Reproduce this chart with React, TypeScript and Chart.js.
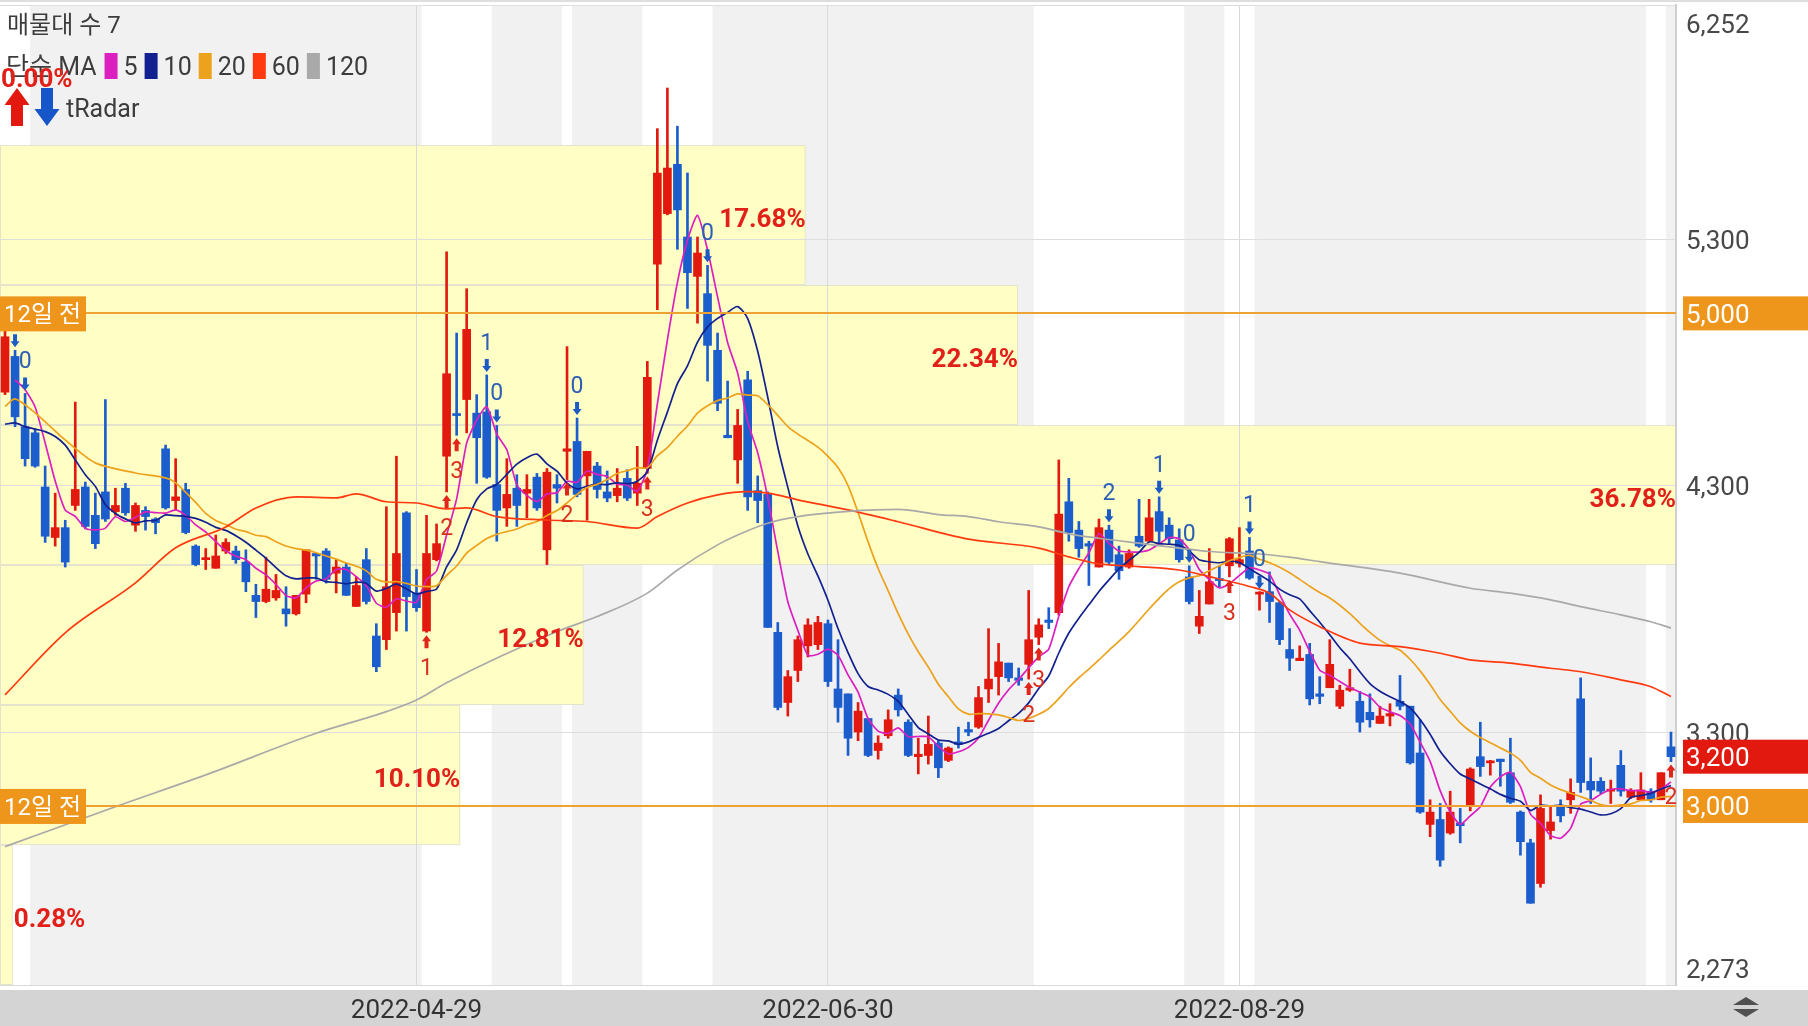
import React, { useEffect, useRef } from 'react';
import { Chart, registerables } from 'chart.js';

Chart.register(...registerables);

// ---------- data ----------
const opens = [
  4680, 4825, 4540, 4515, 4295, 4090, 4130, 4220, 4295, 4180,
  4275, 4195, 4290, 4140, 4200, 4165, 4450, 4240, 4285, 4055,
  4000, 3965, 4035, 4035, 3990, 3855, 3830, 3845, 3800, 3780,
  3860, 4025, 4035, 3945, 3970, 3810, 4000, 3690, 3675, 3785,
  4190, 3865, 3710, 4000, 4420, 4590, 4650, 4595, 4600, 4305,
  4210, 4290, 4270, 4335, 4040, 4305, 4440, 4480, 4340, 4380,
  4275, 4260, 4330, 4270, 4370, 5200, 5405, 5605, 5310, 5150,
  5080, 4850, 4505, 4405, 4730, 4280, 4265, 3705, 3420, 3550,
  3650, 3655, 3740, 3475, 3455, 3300, 3355, 3225, 3285, 3450,
  3340, 3200, 3205, 3255, 3185, 3260, 3310, 3320, 3475, 3525,
  3580, 3520, 3575, 3685, 3755, 3785, 4235, 4120, 4065, 3970,
  4120, 4020, 3970, 4095, 4075, 4195, 4140, 4080, 3930, 3730,
  3820, 3920, 3975, 3985, 4035, 3860, 3870, 3825, 3635, 3590,
  3615, 3455, 3480, 3405, 3470, 3425, 3380, 3335, 3365, 3425,
  3405, 3215, 2925, 2945, 2890, 2930, 3000, 3200, 3175, 3190,
  3135, 2975, 2850, 2685, 2900, 2995, 3025, 3435, 3100, 3100,
  3060, 3165, 3035, 3025, 3060, 3025, 3240,
];
const highs = [
  4930, 4850, 4675, 4530, 4380, 4270, 4160, 4640, 4315, 4270,
  4650, 4290, 4310, 4230, 4215, 4170, 4465, 4410, 4310, 4060,
  4045, 4100, 4085, 4055, 4040, 3900, 4010, 3940, 3890, 3855,
  4040, 4025, 4045, 4000, 3985, 3930, 4045, 3740, 4215, 4420,
  4195, 3960, 4180, 4145, 5250, 4920, 5100, 4670, 4750, 4545,
  4410, 4345, 4345, 4350, 4370, 4345, 4865, 4575, 4440, 4395,
  4360, 4370, 4365, 4460, 4805, 5750, 5915, 5760, 5570, 5310,
  5195, 4920, 4725, 4610, 4765, 4340, 4275, 3745, 3550, 3690,
  3760, 3770, 3755, 3675, 3455, 3420, 3355, 3285, 3390, 3475,
  3350, 3275, 3365, 3265, 3240, 3320, 3340, 3485, 3720, 3660,
  3580, 3560, 3875, 3760, 3805, 4405, 4330, 4155, 4075, 4165,
  4140, 4055, 4040, 4245, 4245, 4255, 4170, 4125, 3975, 3875,
  4045, 3975, 4090, 4130, 4090, 3870, 3950, 3830, 3720, 3650,
  3660, 3525, 3675, 3490, 3555, 3465, 3455, 3405, 3415, 3530,
  3405, 3350, 3025, 3010, 3060, 2990, 3155, 3340, 3185, 3190,
  3275, 2980, 2865, 3045, 2995, 3025, 3110, 3520, 3195, 3115,
  3105, 3225, 3070, 3135, 3070, 3135, 3300,
];
const lows = [
  4670, 4540, 4380, 4375, 4070, 4055, 3970, 4200, 4125, 4045,
  4155, 4180, 4180, 4115, 4120, 4105, 4205, 4200, 4105, 3975,
  3960, 3965, 4025, 3985, 3870, 3765, 3825, 3835, 3730, 3775,
  3825, 3920, 3905, 3865, 3855, 3810, 3820, 3545, 3635, 3710,
  3710, 3790, 3705, 3995, 4275, 4505, 4515, 4310, 4330, 4075,
  4135, 4135, 4170, 4200, 3980, 4230, 4325, 4255, 4160, 4250,
  4235, 4235, 4240, 4220, 4350, 5015, 5400, 5260, 5020, 4960,
  4725, 4605, 4495, 4310, 4200, 4150, 3725, 3390, 3365, 3505,
  3605, 3635, 3485, 3340, 3205, 3265, 3200, 3190, 3275, 3365,
  3200, 3130, 3170, 3115, 3180, 3235, 3285, 3315, 3420, 3450,
  3505, 3490, 3515, 3655, 3720, 3775, 4075, 4010, 3895, 3970,
  3980, 3920, 3965, 4050, 4075, 4065, 4065, 3990, 3820, 3700,
  3820, 3890, 3930, 3970, 3920, 3795, 3745, 3655, 3550, 3590,
  3410, 3415, 3480, 3395, 3465, 3300, 3320, 3335, 3325, 3390,
  3170, 2970, 2875, 2755, 2885, 2850, 2980, 3120, 3125, 3080,
  3010, 2800, 2605, 2670, 2865, 2935, 2970, 3055, 3010, 3050,
  3010, 3040, 3030, 3025, 3015, 3025, 3180,
];
const closes = [
  4905, 4580, 4410, 4380, 4095, 4130, 3990, 4285, 4135, 4065,
  4165, 4220, 4190, 4220, 4175, 4150, 4210, 4255, 4110, 3980,
  4005, 4015, 4070, 4000, 3910, 3830, 3880, 3875, 3780, 3855,
  4040, 4015, 3920, 3970, 3855, 3895, 3830, 3565, 3890, 4025,
  3850, 3805, 4025, 4065, 4755, 4585, 4935, 4495, 4335, 4200,
  4265, 4220, 4285, 4210, 4355, 4290, 4450, 4265, 4440, 4285,
  4250, 4290, 4250, 4310, 4740, 5570, 5590, 5420, 5165, 5245,
  4870, 4635, 4495, 4545, 4255, 4240, 3725, 3400, 3525, 3675,
  3735, 3745, 3505, 3400, 3275, 3385, 3205, 3255, 3350, 3390,
  3205, 3210, 3250, 3155, 3235, 3250, 3300, 3440, 3515, 3585,
  3520, 3510, 3675, 3735, 3745, 4185, 4110, 4045, 4055, 4130,
  3990, 3955, 4025, 4055, 4170, 4115, 4085, 4000, 3830, 3770,
  3910, 3915, 4085, 4000, 3925, 3865, 3830, 3675, 3600, 3600,
  3435, 3445, 3575, 3470, 3480, 3340, 3350, 3365, 3375, 3405,
  3175, 2975, 2975, 2780, 2975, 2920, 3150, 3160, 3180, 3180,
  3015, 2855, 2605, 2990, 2935, 2960, 3055, 3095, 3065, 3060,
  3065, 3060, 3060, 3065, 3025, 3135, 3200,
];

// trading calendar (KRX)
const startDate = '2022-03-02';
const holidays = ['2022-03-09', '2022-05-05', '2022-06-01', '2022-06-06', '2022-08-15', '2022-09-09', '2022-09-12', '2022-10-03', '2022-10-10'];
const tickDates = ['2022-04-29', '2022-06-30', '2022-08-29'];

// price axis
const yMin = 2273;
const yMax = 6252;
const yTicks = [6252, 5300, 4300, 3300, 2273];

// marked levels & current price
const levelPrices = [5000, 3000];
const levelLabel = '12일 전';
const currentPrice = 3200;

// volume-at-price bands (bottom -> top), percent
const vpPct = [0.28, 10.10, 12.81, 36.78, 22.34, 17.68, 0.0];

// shaded day ranges (category indices)
const shadeStart = [3, 49, 57, 71, 118, 125, 166];
const shadeEnd = [41, 55, 63, 102, 121, 163, 166];

// moving averages: head values read from the picture where the window is not in view
const ma5HeadIdx = [1, 2, 3];
const ma5HeadVal = [4730, 4690, 4620];
const ma10HeadIdx = [0, 1, 2, 3, 4, 5, 6, 7, 8];
const ma10HeadVal = [4550, 4555, 4540, 4530, 4520, 4500, 4465, 4405, 4345];
const ma20HeadIdx = [0, 1, 3, 6, 9, 13, 16, 17];
const ma20HeadVal = [4622, 4653, 4596, 4486, 4393, 4352, 4332, 4312];
const ma60Idx = [0, 6, 13, 17, 22, 25, 29, 33, 35, 38, 41, 44, 46, 49, 54, 58, 63, 65, 68, 71, 74, 76, 79, 84, 89, 96, 103, 106, 109, 113, 117, 120, 124, 126, 128, 131, 135, 139, 143, 146, 150, 154, 157, 161, 164, 166];
const ma60Val = [3451, 3703, 3906, 4048, 4133, 4210, 4255, 4251, 4267, 4235, 4230, 4206, 4210, 4175, 4161, 4155, 4128, 4175, 4230, 4263, 4276, 4270, 4243, 4202, 4154, 4083, 4047, 4011, 3983, 3972, 3958, 3931, 3891, 3864, 3796, 3728, 3661, 3647, 3620, 3593, 3580, 3559, 3545, 3512, 3484, 3444];
const ma120Idx = [0, 11, 20, 31, 38, 41, 44, 55, 59, 64, 67, 71, 73, 76, 79, 84, 89, 93, 96, 99, 103, 106, 109, 113, 117, 120, 125, 128, 131, 139, 146, 150, 154, 157, 161, 164, 166];
const ma120Val = [2835, 2997, 3126, 3295, 3383, 3430, 3500, 3708, 3769, 3864, 3958, 4060, 4100, 4148, 4175, 4196, 4204, 4183, 4175, 4154, 4133, 4105, 4087, 4067, 4047, 4033, 4023, 4010, 3992, 3945, 3884, 3864, 3837, 3809, 3776, 3748, 3722];

// tRadar signals
const sigIdx = [1, 2, 42, 44, 45, 48, 49, 56, 57, 64, 70, 102, 103, 110, 115, 118, 122, 124, 125, 166];
const sigUp = [false, false, true, true, true, false, false, true, false, true, false, true, true, false, false, false, true, false, false, true];
const sigNum = ['', '0', '1', '2', '3', '1', '0', '2', '0', '3', '0', '2', '3', '2', '1', '0', '3', '1', '0', '2'];

// legend
const maPeriods = ['5', '10', '20', '60', '120'];
const maColors = ['#dc1fbf', '#12218f', '#eca21c', '#ff3a10', '#a9a9a9'];

const UP = '#e2190f';
const DOWN = '#1b5dcc';
const ORANGE = '#ee961c';
const FONT = 'Roboto, "Noto Sans CJK KR", sans-serif';
const TY = 3; // text baseline nudge

function buildTradingDays(start: string, count: number, hol: string[]): string[] {
  const out: string[] = [];
  const d = new Date(start + 'T00:00:00Z');
  while (out.length < count) {
    const wd = d.getUTCDay();
    const s = d.toISOString().slice(0, 10);
    if (wd !== 0 && wd !== 6 && !hol.includes(s)) out.push(s);
    d.setUTCDate(d.getUTCDate() + 1);
  }
  return out;
}

function movingAvg(src: number[], n: number, headIdx: number[], headVal: number[]) {
  return src.map((_, i) => {
    if (i >= n - 1) {
      let s = 0;
      for (let k = i - n + 1; k <= i; k++) s += src[k];
      return s / n;
    }
    const h = headIdx.indexOf(i);
    return h >= 0 ? headVal[h] : null;
  });
}

function sparse(n: number, idx: number[], val: number[]) {
  const arr: (number | null)[] = new Array(n).fill(null);
  idx.forEach((i, k) => { arr[i] = val[k]; });
  return arr;
}

function arrow(ctx: CanvasRenderingContext2D, x: number, tip: number, up: boolean, color: string, w: number, h: number, shaftW: number, headH: number) {
  const s = up ? 1 : -1;
  ctx.fillStyle = color;
  ctx.beginPath();
  ctx.moveTo(x, tip);
  ctx.lineTo(x + w / 2, tip + s * headH);
  ctx.lineTo(x + shaftW / 2, tip + s * headH);
  ctx.lineTo(x + shaftW / 2, tip + s * h);
  ctx.lineTo(x - shaftW / 2, tip + s * h);
  ctx.lineTo(x - shaftW / 2, tip + s * headH);
  ctx.lineTo(x - w / 2, tip + s * headH);
  ctx.closePath();
  ctx.fill();
}

const decorPlugin = {
  id: 'decor',
  beforeDraw(chart: any) {
    const { ctx, chartArea: a, scales } = chart;
    const xs = scales.x;
    const ys = scales.y;
    const W = chart.width;
    const H = chart.height;
    ctx.save();
    ctx.fillStyle = '#ffffff';
    ctx.fillRect(0, 0, W, H);
    ctx.fillStyle = '#dedede';
    ctx.fillRect(0, 0, W, 2);
    const half = (xs.getPixelForValue(1) - xs.getPixelForValue(0)) / 2;
    ctx.fillStyle = '#f1f1f1';
    shadeStart.forEach((s, k) => {
      const x0 = xs.getPixelForValue(s) - half;
      const x1 = xs.getPixelForValue(shadeEnd[k]) + half;
      ctx.fillRect(x0, a.top, x1 - x0, a.bottom - a.top);
    });
    const step = (yMax - yMin) / vpPct.length;
    const maxPct = Math.max(...vpPct);
    vpPct.forEach((p, k) => {
      if (p <= 0) return;
      const yt = ys.getPixelForValue(yMin + (k + 1) * step);
      const yb = ys.getPixelForValue(yMin + k * step);
      const w = (p / maxPct) * (a.right - a.left);
      ctx.fillStyle = '#fffec4';
      ctx.fillRect(a.left, yt, w, yb - yt);
      ctx.strokeStyle = '#e4e4cc';
      ctx.lineWidth = 1;
      ctx.strokeRect(a.left + 0.5, Math.round(yt) + 0.5, w - 1, yb - yt - 1);
    });
    ctx.fillStyle = '#d4d4d4';
    ctx.fillRect(0, a.bottom + 5, W, H - a.bottom - 5);
    ctx.restore();
  },
  afterDatasetsDraw(chart: any) {
    const { ctx, chartArea: a, scales } = chart;
    const xs = scales.x;
    const ys = scales.y;
    ctx.save();
    ctx.beginPath();
    ctx.rect(a.left, a.top, a.right - a.left, a.bottom - a.top);
    ctx.clip();
    ctx.font = '23px ' + FONT;
    ctx.textAlign = 'center';
    ctx.textBaseline = 'middle';
    sigIdx.forEach((i, k) => {
      const x = xs.getPixelForValue(i);
      if (sigUp[k]) {
        const tip = ys.getPixelForValue(lows[i]) + 3;
        arrow(ctx, x, tip, true, '#e0251a', 9, 13, 4, 6);
        ctx.fillStyle = '#d8301e';
        if (sigNum[k]) ctx.fillText(sigNum[k], x, tip + 31 + TY);
      } else {
        const tip = ys.getPixelForValue(highs[i]) - 3;
        arrow(ctx, x, tip, false, '#1c5bc4', 9, 13, 4, 6);
        ctx.fillStyle = '#2d5fb4';
        if (sigNum[k]) ctx.fillText(sigNum[k], x, tip - 31 + TY);
      }
    });
    ctx.strokeStyle = '#efa234';
    ctx.lineWidth = 2;
    levelPrices.forEach((p) => {
      const y = Math.round(ys.getPixelForValue(p));
      ctx.beginPath();
      ctx.moveTo(a.left, y);
      ctx.lineTo(a.right, y);
      ctx.stroke();
    });
    ctx.restore();
  },
  afterDraw(chart: any) {
    const { ctx, chartArea: a, scales } = chart;
    const ys = scales.y;
    const W = chart.width;
    ctx.save();
    ctx.font = '26px ' + FONT;
    ctx.textAlign = 'left';
    ctx.textBaseline = 'middle';
    ctx.fillStyle = '#484848';
    yTicks.forEach((v) => {
      let y = ys.getPixelForValue(v);
      y = Math.max(a.top + 18, Math.min(a.bottom - 17, y));
      ctx.fillText(v.toLocaleString('en-US'), a.right + 10, y + TY);
    });
    levelPrices.forEach((p) => {
      const y = ys.getPixelForValue(p);
      ctx.fillStyle = ORANGE;
      ctx.fillRect(a.right + 7, y - 17, W - a.right - 7, 34);
      ctx.fillStyle = '#ffffff';
      ctx.font = '26px ' + FONT;
      ctx.fillText(p.toLocaleString('en-US'), a.right + 10, y + TY);
      ctx.fillStyle = ORANGE;
      ctx.fillRect(a.left, y - 17, 86, 35);
      ctx.fillStyle = '#ffffff';
      ctx.font = '24px ' + FONT;
      ctx.fillText(levelLabel, a.left + 4, y + TY);
    });
    {
      const y = ys.getPixelForValue(currentPrice);
      ctx.fillStyle = UP;
      ctx.fillRect(a.right + 7, y - 17, W - a.right - 7, 34);
      ctx.fillStyle = '#ffffff';
      ctx.font = '26px ' + FONT;
      ctx.fillText(currentPrice.toLocaleString('en-US'), a.right + 10, y + TY);
    }
    ctx.fillStyle = '#3c3c3c';
    ctx.font = '24px ' + FONT;
    ctx.fillText('매물대 수 7', 7, 24 + TY);
    ctx.font = '25px ' + FONT;
    let lx = 6;
    ctx.fillText('단순 MA', lx, 66 + TY);
    lx += ctx.measureText('단순 MA').width + 8;
    maPeriods.forEach((p, k) => {
      ctx.fillStyle = maColors[k];
      ctx.fillRect(lx, 53, 13, 26);
      lx += 13 + 6;
      ctx.fillStyle = '#3c3c3c';
      ctx.fillText(p, lx, 66 + TY);
      lx += ctx.measureText(p).width + 7;
    });
    arrow(ctx, 17, 88, true, '#e3190f', 25, 38, 12, 17);
    arrow(ctx, 47, 126, false, '#1656c8', 25, 38, 12, 17);
    ctx.fillStyle = '#3c3c3c';
    ctx.font = '25px ' + FONT;
    ctx.fillText('tRadar', 66, 108 + TY);
    const step = (yMax - yMin) / vpPct.length;
    const maxPct = Math.max(...vpPct);
    ctx.font = 'bold 26px ' + FONT;
    ctx.fillStyle = '#e12119';
    vpPct.forEach((p, k) => {
      const yc = ys.getPixelForValue(yMin + (k + 0.5) * step);
      const right = a.left + (p / maxPct) * (a.right - a.left);
      const txt = p.toFixed(2) + '%';
      const tw = ctx.measureText(txt).width;
      if (tw + 4 < right - a.left) {
        ctx.textAlign = 'right';
        ctx.fillText(txt, right, yc + 2 + TY);
      } else {
        ctx.textAlign = 'left';
        ctx.fillText(txt, right + 1, yc + 2 + TY);
      }
    });
    ctx.fillStyle = '#505050';
    ctx.beginPath();
    ctx.moveTo(1746, 997); ctx.lineTo(1759, 1005); ctx.lineTo(1733, 1005); ctx.closePath();
    ctx.fill();
    ctx.beginPath();
    ctx.moveTo(1733, 1009); ctx.lineTo(1759, 1009); ctx.lineTo(1746, 1017); ctx.closePath();
    ctx.fill();
    ctx.restore();
  },
};

export default function App() {
  const ref = useRef<HTMLCanvasElement>(null);
  useEffect(() => {
    document.body.style.margin = '0';
    const canvas = ref.current;
    if (!canvas) return;
    const n = opens.length;
    const labels = buildTradingDays(startDate, n, holidays);
    const colors = closes.map((c, i) => (c >= opens[i] ? UP : DOWN));
    const ma5 = movingAvg(closes, 5, ma5HeadIdx, ma5HeadVal);
    const ma10 = movingAvg(closes, 10, ma10HeadIdx, ma10HeadVal);
    const ma20 = movingAvg(closes, 20, ma20HeadIdx, ma20HeadVal);
    const ma60 = sparse(n, ma60Idx, ma60Val);
    const ma120 = sparse(n, ma120Idx, ma120Val);
    const lineBase = { type: 'line', pointRadius: 0, borderWidth: 1.7, spanGaps: true, order: 1, fill: false };
    const chart = new Chart(canvas, {
      type: 'bar',
      data: {
        labels,
        datasets: [
          { ...lineBase, label: 'MA120', data: ma120, borderColor: maColors[4], cubicInterpolationMode: 'monotone' },
          { ...lineBase, label: 'MA60', data: ma60, borderColor: maColors[3], cubicInterpolationMode: 'monotone' },
          { ...lineBase, label: 'MA20', data: ma20, borderColor: maColors[2], tension: 0.25 },
          { ...lineBase, label: 'MA10', data: ma10, borderColor: maColors[1], tension: 0.25 },
          { ...lineBase, label: 'MA5', data: ma5, borderColor: maColors[0], tension: 0.2 },
          {
            type: 'bar', label: 'body', data: opens.map((o, i) => [o, closes[i]]),
            backgroundColor: colors, barThickness: 8, grouped: false, minBarLength: 2, order: 2,
          },
          {
            type: 'bar', label: 'wick', data: lows.map((l, i) => [l, highs[i]]),
            backgroundColor: colors, barThickness: 2, grouped: false, order: 3,
          },
        ] as any,
      },
      options: {
        responsive: false,
        animation: false,
        devicePixelRatio: 1,
        layout: { padding: { top: 5, left: 0, right: 0, bottom: 0 } },
        plugins: { legend: { display: false }, tooltip: { enabled: false } },
        scales: {
          x: {
            type: 'category',
            offset: true,
            grid: { offset: false, color: '#d9d9d9', lineWidth: 1, drawTicks: false },
            border: { display: true, color: '#d9d9d9' },
            ticks: {
              autoSkip: false, maxRotation: 0, minRotation: 0, padding: 11,
              color: '#333333', font: { family: 'Roboto', size: 26 },
              callback: (_v: any, i: number) => (tickDates.includes(labels[i]) ? labels[i] : null),
            },
            afterFit: (s: any) => { s.height = 41; },
          },
          y: {
            type: 'linear',
            position: 'right',
            min: yMin,
            max: yMax,
            grid: { color: '#dedede', drawTicks: false },
            border: { display: true, color: '#cfcfcf', width: 2 },
            ticks: { display: false },
            afterBuildTicks: (s: any) => { s.ticks = yTicks.map((v) => ({ value: v })); },
            afterFit: (s: any) => { s.width = 132; },
          },
        },
      } as any,
      plugins: [decorPlugin],
    });
    return () => chart.destroy();
  }, []);
  return <canvas ref={ref} width={1808} height={1026} style={{ display: 'block', width: 1808, height: 1026 }} />;
}
